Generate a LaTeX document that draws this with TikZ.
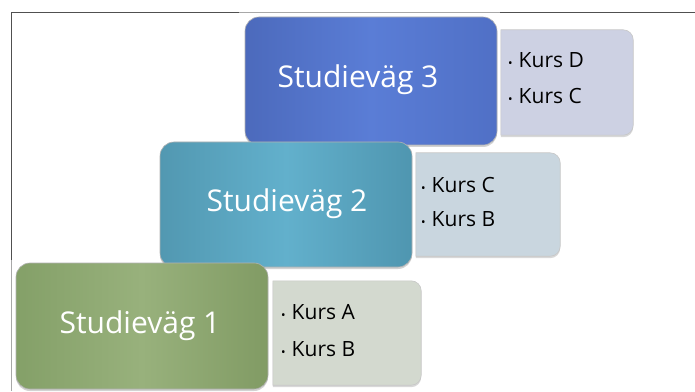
\documentclass[tikz,border=0pt]{standalone}
\usepackage{fontspec}
\setmainfont{Open Sans}
\usetikzlibrary{shadows}

\definecolor{sthreeL}{HTML}{4C6ABC}
\definecolor{sthreeM}{HTML}{5A7DD6}
\definecolor{sthreeR}{HTML}{5070C6}
\definecolor{stwoL}{HTML}{5298B1}
\definecolor{stwoM}{HTML}{62B0CC}
\definecolor{stwoR}{HTML}{4F96B0}
\definecolor{soneL}{HTML}{84A068}
\definecolor{soneM}{HTML}{98B17C}
\definecolor{soneR}{HTML}{819B64}
\definecolor{kthree}{HTML}{CDD1E3}
\definecolor{ktwo}{HTML}{C9D6DF}
\definecolor{kone}{HTML}{D3D9CF}
\definecolor{framedark}{HTML}{505050}
\definecolor{framelight}{HTML}{A8A8A8}

% course panel: square on the left, rounded on the right
\newcommand\kursshape[2]{%
  \path[kursbox=#2] (#1.south west) -- (#1.north west)
    -- ([xshift=-10pt]#1.north east) arc[start angle=90,end angle=0,radius=10pt]
    -- ([yshift=10pt]#1.south east) arc[start angle=0,end angle=-90,radius=10pt]
    -- cycle;}

\begin{document}
\begin{tikzpicture}[x=1pt,y=1pt,
  mainbox/.style={rectangle, rounded corners=14pt, inner sep=0pt,
    minimum width=252pt, draw=black!30, line width=0.6pt,
    drop shadow={shadow xshift=0pt, shadow yshift=-2pt, opacity=0.35}},
  title/.style={text=white, inner sep=0pt, font=\fontsize{30}{36}\selectfont},
  kursframe/.style={rectangle, inner sep=0pt, draw=none},
  kursbox/.style={fill=#1, draw=black!22, line width=0.6pt,
    drop shadow={shadow xshift=0pt, shadow yshift=-2pt, opacity=0.3}},
  kurs/.style={anchor=west, inner sep=0pt, text=black,
    font=\fontsize{21}{25}\selectfont},
  frameline/.style={line width=1pt}]

\fill[white] (0,0) rectangle (695,391);
\useasboundingbox (0,0) rectangle (695,391);

% page frame
\draw[frameline, framedark] (11,131) -- (11,378) -- (239,378);
\draw[frameline, framelight] (239,378) -- (500,378);
\draw[frameline, framedark] (500,378) -- (695,378);
\draw[frameline, framelight] (11,0) -- (11,131);

% study path 3
\node[mainbox, minimum height=128pt, left color=sthreeL, right color=sthreeR,
  middle color=sthreeM] (s3) at (371,310) {};
\node[title] (s3t) at (358,311) {Studieväg 3};
\node[kursframe, minimum width=132pt, minimum height=105pt] (k3) at (567,308.5) {};
\kursshape{k3}{kthree}
\node[kurs] (k3a) at (508,330.5) {{\fontsize{12}{12}\selectfont •}\hspace{6pt}Kurs D};
\node[kurs] (k3b) at (508,295) {{\fontsize{12}{12}\selectfont •}\hspace{6pt}Kurs C};

% study path 2
\node[mainbox, minimum height=125pt, left color=stwoL, right color=stwoR,
  middle color=stwoM] (s2) at (286,186.5) {};
\node[title] (s2t) at (287,187) {Studieväg 2};
\node[kursframe, minimum width=144pt, minimum height=103pt] (k2) at (488,186.5) {};
\kursshape{k2}{ktwo}
\node[kurs] (k2a) at (421,206.5) {{\fontsize{12}{12}\selectfont •}\hspace{6pt}Kurs C};
\node[kurs] (k2b) at (421,171.5) {{\fontsize{12}{12}\selectfont •}\hspace{6pt}Kurs B};

% study path 1
\node[mainbox, minimum height=126pt, left color=soneL, right color=soneR,
  middle color=soneM] (s1) at (142,65) {};
\node[title] (s1t) at (140,65) {Studieväg 1};
\node[kursframe, minimum width=148pt, minimum height=104pt] (k1) at (347,58) {};
\kursshape{k1}{kone}
\node[kurs] (k1a) at (281,78.5) {{\fontsize{12}{12}\selectfont •}\hspace{6pt}Kurs A};
\node[kurs] (k1b) at (281,42) {{\fontsize{12}{12}\selectfont •}\hspace{6pt}Kurs B};
\end{tikzpicture}
\end{document}
